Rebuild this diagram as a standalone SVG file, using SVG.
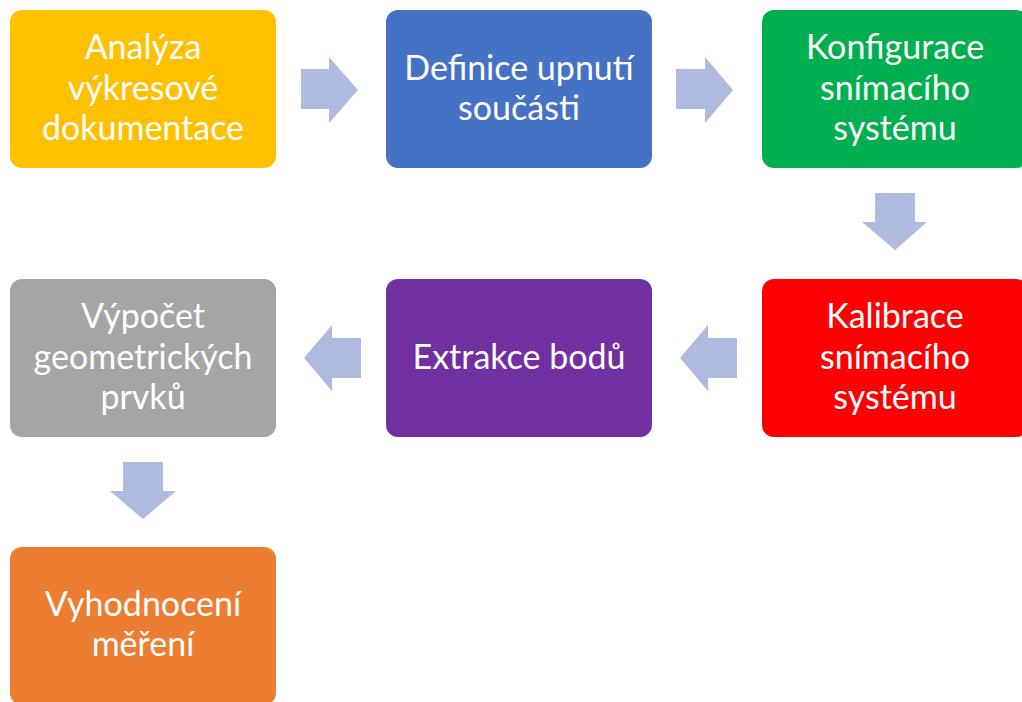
<svg xmlns="http://www.w3.org/2000/svg" width="1022" height="702" viewBox="0 0 1022 702">
<style>
.box{stroke:none}
.t{font-family:"Lato","Open Sans","Liberation Sans",sans-serif;font-size:34px;fill:#ffffff;text-anchor:middle}
.arr{fill:#AFBADF}
</style>
<rect width="1022" height="702" fill="#ffffff"/>
<g id="connectors">
<polygon class="arr" points="301,69 329,69 329,57 358,90 329,123 329,109 301,109"/>
<polygon class="arr" points="676,69 705,69 705,57 733,90 705,123 705,109 676,109"/>
<polygon class="arr" points="875,193 915,193 915,222 927,222 895,250 862,222 875,222"/>
<polygon class="arr" points="737,338 708,338 708,325 680,358 708,391 708,378 737,378"/>
<polygon class="arr" points="361,338 332,338 332,325 304,358 332,391 332,378 361,378"/>
<polygon class="arr" points="123,462 163,462 163,491 176,491 143,519 110,491 123,491"/>
</g>
<g id="n1"><rect class="box" x="10" y="10" width="266" height="158" rx="12" fill="#FFC000"/>
<text class="t" x="143" y="59">Analýza</text><text class="t" x="143" y="100">výkresové</text><text class="t" x="143" y="140">dokumentace</text></g>
<g id="n2"><rect class="box" x="386" y="10" width="266" height="158" rx="12" fill="#4472C4"/>
<text class="t" x="519" y="80">Definice upnutí</text><text class="t" x="519" y="120">součásti</text></g>
<g id="n3"><rect class="box" x="762" y="10" width="266" height="158" rx="12" fill="#00B050"/>
<text class="t" x="895" y="59">Konfigurace</text><text class="t" x="895" y="100">snímacího</text><text class="t" x="895" y="140">systému</text></g>
<g id="n4"><rect class="box" x="762" y="279" width="266" height="158" rx="12" fill="#FF0000"/>
<text class="t" x="895" y="328">Kalibrace</text><text class="t" x="895" y="369">snímacího</text><text class="t" x="895" y="409">systému</text></g>
<g id="n5"><rect class="box" x="386" y="279" width="266" height="158" rx="12" fill="#7030A0"/>
<text class="t" x="519" y="369">Extrakce bodů</text></g>
<g id="n6"><rect class="box" x="10" y="279" width="266" height="158" rx="12" fill="#A5A5A5"/>
<text class="t" x="143" y="328">Výpočet</text><text class="t" x="143" y="369">geometrických</text><text class="t" x="143" y="409">prvků</text></g>
<g id="n7"><rect class="box" x="10" y="547" width="266" height="158" rx="12" fill="#ED7D31"/>
<text class="t" x="143" y="616">Vyhodnocení</text><text class="t" x="143" y="656">měření</text></g>
</svg>
